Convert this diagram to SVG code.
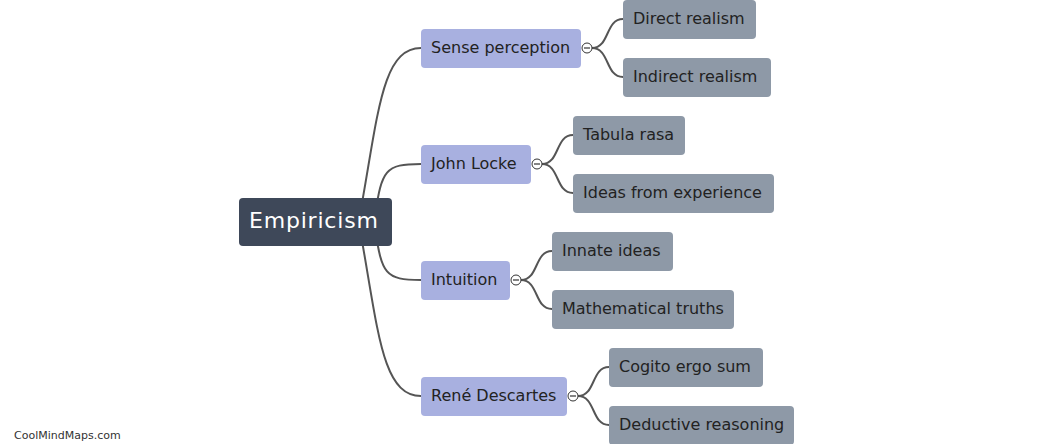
<svg xmlns="http://www.w3.org/2000/svg" width="1045" height="444" viewBox="0 0 1045 444">
<style>
.l1 rect{fill:#a8b0e0}
.l2 rect{fill:#8e99a7}
.t{font-family:"DejaVu Sans",Verdana,sans-serif;font-size:16px;fill:#222}
.conn path{fill:none;stroke:#555;stroke-width:2}
.tg circle{fill:#fff;stroke:#333;stroke-width:1}
.tg line{stroke:#333;stroke-width:1.2}
</style>
<rect width="1045" height="444" fill="#fff"/>
<g id="connectors" class="conn">
<path d="M358 225 C378 120 380 48 421 48"/>
<path d="M375 215 C382 170 385 164 421 164"/>
<path d="M375 229 C382 274 385 280 421 280"/>
<path d="M358 219 C378 324 380 396 421 396"/>
<path d="M592 48 C610 48 605 19 623 19"/>
<path d="M592 48 C610 48 605 77 623 77"/>
<path d="M542 164 C560 164 555 135 573 135"/>
<path d="M542 164 C560 164 555 193 573 193"/>
<path d="M521 280 C539 280 534 251 552 251"/>
<path d="M521 280 C539 280 534 309 552 309"/>
<path d="M578 396 C596 396 591 367 609 367"/>
<path d="M578 396 C596 396 591 425 609 425"/>
</g>
<g id="root">
<rect x="239" y="198" width="153" height="48" rx="4" fill="#3e4859"/>
<text x="249" y="228" font-family="DejaVu Sans, Verdana, sans-serif" font-size="22" letter-spacing="0.8" fill="#fff">Empiricism</text>
</g>
<g id="n-sense" class="l1">
<rect x="421" y="29" width="160" height="39" rx="4"/>
<text class="t" x="431" y="53">Sense perception</text>
</g>
<g id="n-locke" class="l1">
<rect x="421" y="145" width="110" height="39" rx="4"/>
<text class="t" x="431" y="169">John Locke</text>
</g>
<g id="n-intuition" class="l1">
<rect x="421" y="261" width="89" height="39" rx="4"/>
<text class="t" x="431" y="285">Intuition</text>
</g>
<g id="n-descartes" class="l1">
<rect x="421" y="377" width="146" height="39" rx="4"/>
<text class="t" x="431" y="401">René Descartes</text>
</g>
<g class="tg">
<circle cx="587" cy="48" r="5"/><line x1="584" y1="48" x2="590" y2="48"/>
<circle cx="537" cy="164" r="5"/><line x1="534" y1="164" x2="540" y2="164"/>
<circle cx="516" cy="280" r="5"/><line x1="513" y1="280" x2="519" y2="280"/>
<circle cx="573" cy="396" r="5"/><line x1="570" y1="396" x2="576" y2="396"/>
</g>
<g id="n-direct" class="l2">
<rect x="623" y="0" width="133" height="39" rx="4"/>
<text class="t" x="633" y="24">Direct realism</text>
</g>
<g id="n-indirect" class="l2">
<rect x="623" y="58" width="148" height="39" rx="4"/>
<text class="t" x="633" y="82">Indirect realism</text>
</g>
<g id="n-tabula" class="l2">
<rect x="573" y="116" width="112" height="39" rx="4"/>
<text class="t" x="583" y="140">Tabula rasa</text>
</g>
<g id="n-ideas" class="l2">
<rect x="573" y="174" width="201" height="39" rx="4"/>
<text class="t" x="583" y="198">Ideas from experience</text>
</g>
<g id="n-innate" class="l2">
<rect x="552" y="232" width="121" height="39" rx="4"/>
<text class="t" x="562" y="256">Innate ideas</text>
</g>
<g id="n-math" class="l2">
<rect x="552" y="290" width="182" height="39" rx="4"/>
<text class="t" x="562" y="314">Mathematical truths</text>
</g>
<g id="n-cogito" class="l2">
<rect x="609" y="348" width="154" height="39" rx="4"/>
<text class="t" x="619" y="372">Cogito ergo sum</text>
</g>
<g id="n-deductive" class="l2">
<rect x="609" y="406" width="185" height="39" rx="4"/>
<text class="t" x="619" y="430">Deductive reasoning</text>
</g>
<text x="14" y="439" font-family="DejaVu Sans, Verdana, sans-serif" font-size="11" fill="#333">CoolMindMaps.com</text>
</svg>
